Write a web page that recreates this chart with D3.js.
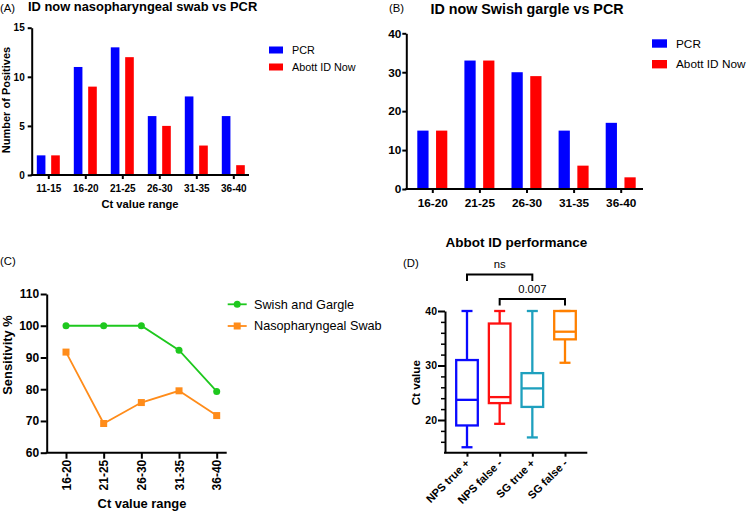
<!DOCTYPE html>
<html>
<head>
<meta charset="utf-8">
<script src="https://cdn.jsdelivr.net/npm/d3@7"></script>
<style>
  body { margin: 0; background: #fff; }
  svg { display: block; }
</style>
</head>
<body>
<div id="chart"></div>
<script>
// (A) nasopharyngeal swab vs PCR
const nasoCategories = ['11-15', '16-20', '21-25', '26-30', '31-35', '36-40'];
const nasoPcr = [2, 11, 13, 6, 8, 6];
const nasoIdNow = [2, 9, 12, 5, 3, 1];
const nasoTicks = [0, 5, 10, 15];

// (B) swish gargle vs PCR
const gargleCategories = ['16-20', '21-25', '26-30', '31-35', '36-40'];
const garglePcr = [15, 33, 30, 15, 17];
const gargleIdNow = [15, 33, 29, 6, 3];
const gargleTicks = [0, 10, 20, 30, 40];

const barSeries = ['PCR', 'Abott ID Now'];

// (C) sensitivity
const sensCategories = ['16-20', '21-25', '26-30', '31-35', '36-40'];
const sensSwish = [100, 100, 100, 92.3, 79.3];
const sensNaso = [91.7, 69.2, 75.8, 79.5, 71.7];
const sensTicks = [60, 70, 80, 90, 100, 110];
const lineSeries = ['Swish and Gargle', 'Nasopharyngeal Swab'];

// (D) box plots
const boxGroups = ['NPS true +', 'NPS false -', 'SG true +', 'SG false -'];
const boxMin = [15.0, 19.3, 16.8, 30.5];
const boxQ1 = [19.0, 23.1, 22.4, 34.8];
const boxMedian = [23.7, 24.2, 25.8, 36.2];
const boxQ3 = [31.0, 37.7, 28.6, 40.0];
const boxMax = [40, 40, 40, 40];
const boxTicks = [20, 30, 40];
const boxMinorTicks = [16, 18, 22, 24, 26, 28, 32, 34, 36, 38];
const sigLabels = ['ns', '0.007'];
const sigFrom = ['NPS true +', 'NPS false -'];
const sigTo = ['SG true +', 'SG false -'];
const sigLevel = [46.7, 42.2];

const FONT = '"Liberation Sans", Arial, Helvetica, sans-serif';

const svg = d3.select('#chart')
    .append('svg')
    .attr('width', 748)
    .attr('height', 512)
    .attr('font-family', FONT);

function styleAxis(g, fontSize) {
    g.attr('font-family', FONT);
    g.select('.domain').attr('stroke-width', 2);
    g.selectAll('.tick line').attr('stroke-width', 2);
    g.selectAll('.tick text')
        .attr('font-size', fontSize)
        .attr('font-weight', 'bold')
        .attr('fill', '#000');
}

function addText(x, y, txt, size, opts = {}) {
    return svg.append('text')
        .attr('x', x)
        .attr('y', y)
        .attr('font-size', size)
        .attr('font-weight', opts.bold ? 'bold' : 'normal')
        .attr('text-anchor', opts.anchor || 'start')
        .attr('transform', opts.rotate ? `rotate(${opts.rotate},${x},${y})` : null)
        .text(txt);
}

// grouped bars, used by A and B
function barPanel(o) {
    const x = d3.scalePoint().domain(o.categories).range(o.xRange);
    const inner = d3.scaleBand().domain(barSeries).range([-o.half, o.half]).paddingInner(0.4);
    const y = d3.scaleLinear().domain([0, d3.max(o.ticks)]).range(o.yRange);
    const color = d3.scaleOrdinal().domain(barSeries).range(['#0000ff', '#ff0000']);

    const rows = o.categories.map((c, i) => ({ c, values: [o.pcr[i], o.idNow[i]] }));

    svg.append('g')
        .selectAll('g')
        .data(rows)
        .join('g')
        .attr('transform', d => `translate(${x(d.c)},0)`)
        .selectAll('rect')
        .data(d => barSeries.map((s, j) => ({ s, v: d.values[j] })))
        .join('rect')
        .attr('x', d => inner(d.s))
        .attr('width', inner.bandwidth())
        .attr('y', d => y(d.v))
        .attr('height', d => y(0) - y(d.v))
        .attr('fill', d => color(d.s));

    svg.append('line')
        .attr('x1', o.axisX[0] - 1).attr('x2', o.axisX[1])
        .attr('y1', y(0)).attr('y2', y(0))
        .attr('stroke', '#000').attr('stroke-width', 2);

    const gx = svg.append('g')
        .attr('transform', `translate(0,${y(0)})`)
        .call(d3.axisBottom(x).tickSize(o.tickLen).tickPadding(o.xPad));
    gx.select('.domain').remove();
    styleAxis(gx, o.font);

    const gy = svg.append('g')
        .attr('transform', `translate(${o.axisX[0]},0)`)
        .call(d3.axisLeft(y).tickValues(o.ticks).tickSize(o.tickLen).tickSizeOuter(0).tickPadding(o.yPad));
    styleAxis(gy, o.font);

    // legend
    barSeries.forEach((s, i) => {
        const ly = o.legend.y + i * o.legend.gap;
        svg.append('rect')
            .attr('x', o.legend.x).attr('y', ly - o.legend.h / 2)
            .attr('width', o.legend.w).attr('height', o.legend.h)
            .attr('fill', color(s));
        addText(o.legend.x + o.legend.w + 9, ly, s, o.legend.font).attr('dy', '0.35em');
    });
}

// ---------- (A) ----------
addText(0, 12, '(A)', 11.3);
addText(28, 10.5, 'ID now nasopharyngeal swab vs PCR', 12.9, { bold: true });
barPanel({
    categories: nasoCategories, pcr: nasoPcr, idNow: nasoIdNow, ticks: nasoTicks,
    xRange: [48.3, 233.3], axisX: [31.7, 249], yRange: [175, 27.7],
    half: 11.5, tickLen: 4, xPad: 6, yPad: 3, font: 10,
    legend: { x: 269, y: 50, gap: 17, w: 14, h: 7, font: 10.8 }
});
addText(140, 207.5, 'Ct value range', 11.2, { bold: true, anchor: 'middle' });
addText(10, 100, 'Number of Positives', 11, { bold: true, anchor: 'middle', rotate: -90 });

// ---------- (B) ----------
addText(389, 12, '(B)', 11.3);
addText(430.5, 14, 'ID now Swish gargle vs PCR', 14.3, { bold: true });
barPanel({
    categories: gargleCategories, pcr: garglePcr, idNow: gargleIdNow, ticks: gargleTicks,
    xRange: [432.3, 620.7], axisX: [406.3, 643], yRange: [189, 33.3],
    half: 15, tickLen: 4, xPad: 6, yPad: 1, font: 11.8,
    legend: { x: 652, y: 43.5, gap: 20.7, w: 15, h: 8.4, font: 11.8 }
});

// ---------- (C) ----------
addText(0, 265, '(C)', 11.3);
{
    const x = d3.scalePoint().domain(sensCategories).range([66, 216.7]);
    const y = d3.scaleLinear().domain([60, 110]).range([452.7, 294]);
    const color = d3.scaleOrdinal().domain(lineSeries).range(['#1ec81e', '#ff8c1a']);
    const seriesData = [sensSwish, sensNaso];

    svg.append('line')
        .attr('x1', 45.7).attr('x2', 226.7)
        .attr('y1', y(60)).attr('y2', y(60))
        .attr('stroke', '#000').attr('stroke-width', 2);

    const gx = svg.append('g')
        .attr('transform', `translate(0,${y(60)})`)
        .call(d3.axisBottom(x).tickSize(6));
    gx.select('.domain').remove();
    styleAxis(gx, 12);
    gx.selectAll('.tick text')
        .attr('transform', 'rotate(-90)')
        .attr('text-anchor', 'end')
        .attr('x', -7)
        .attr('y', 0)
        .attr('dy', '0.35em');

    const gy = svg.append('g')
        .attr('transform', 'translate(46.7,0)')
        .call(d3.axisLeft(y).tickValues(sensTicks).tickSize(6).tickSizeOuter(0).tickPadding(1.5));
    styleAxis(gy, 12);

    const line = d3.line().x((d, i) => x(sensCategories[i])).y(d => y(d));

    lineSeries.forEach((s, k) => {
        svg.append('path')
            .datum(seriesData[k])
            .attr('d', line)
            .attr('fill', 'none')
            .attr('stroke', color(s))
            .attr('stroke-width', 1.8);
    });

    // markers
    svg.append('g').selectAll('circle')
        .data(sensSwish)
        .join('circle')
        .attr('cx', (d, i) => x(sensCategories[i]))
        .attr('cy', d => y(d))
        .attr('r', 3.5)
        .attr('fill', color(lineSeries[0]));
    svg.append('g').selectAll('rect')
        .data(sensNaso)
        .join('rect')
        .attr('x', (d, i) => x(sensCategories[i]) - 3.5)
        .attr('y', d => y(d) - 3.5)
        .attr('width', 7).attr('height', 7)
        .attr('fill', color(lineSeries[1]));

    // legend
    lineSeries.forEach((s, k) => {
        const ly = 304.3 + k * 21.7;
        svg.append('line')
            .attr('x1', 227.7).attr('x2', 246.7)
            .attr('y1', ly).attr('y2', ly)
            .attr('stroke', color(s)).attr('stroke-width', 1.8);
        if (k === 0) {
            svg.append('circle').attr('cx', 237.2).attr('cy', ly).attr('r', 3.5).attr('fill', color(s));
        } else {
            svg.append('rect').attr('x', 233.7).attr('y', ly - 3.5).attr('width', 7).attr('height', 7).attr('fill', color(s));
        }
        addText(254, ly, s, 12.7).attr('dy', '0.35em');
    });

    addText(142, 507.5, 'Ct value range', 12.9, { bold: true, anchor: 'middle' });
    addText(12, 355, 'Sensitivity %', 12.9, { bold: true, anchor: 'middle', rotate: -90 });
}

// ---------- (D) ----------
addText(403, 266.5, '(D)', 11.3);
addText(516.5, 246.5, 'Abbot ID performance', 13.5, { bold: true, anchor: 'middle' });
{
    const x = d3.scalePoint().domain(boxGroups).range([467, 565]);
    const y = d3.scaleLinear().domain([14, 40]).range([452.7, 311]);
    const color = d3.scaleOrdinal().domain(boxGroups).range(['#0a0aff', '#ff1010', '#1ea0be', '#ff8000']);
    const half = 10.8;
    const cap = 5.5;

    const boxes = boxGroups.map((g, i) => ({
        g, min: boxMin[i], q1: boxQ1[i], med: boxMedian[i], q3: boxQ3[i], max: boxMax[i]
    }));

    const bg = svg.append('g')
        .selectAll('g')
        .data(boxes)
        .join('g')
        .attr('transform', d => `translate(${x(d.g)},0)`)
        .attr('stroke', d => color(d.g))
        .attr('stroke-width', 2.3)
        .attr('fill', 'none');

    // whiskers
    bg.append('line').attr('x1', 0).attr('x2', 0).attr('y1', d => y(d.max)).attr('y2', d => y(d.q3));
    bg.append('line').attr('x1', 0).attr('x2', 0).attr('y1', d => y(d.q1)).attr('y2', d => y(d.min));
    bg.append('line').attr('x1', -cap).attr('x2', cap).attr('y1', d => y(d.max)).attr('y2', d => y(d.max));
    bg.append('line').attr('x1', -cap).attr('x2', cap).attr('y1', d => y(d.min)).attr('y2', d => y(d.min));
    // box + median
    bg.append('rect')
        .attr('x', -half).attr('width', half * 2)
        .attr('y', d => y(d.q3)).attr('height', d => y(d.q1) - y(d.q3));
    bg.append('line').attr('x1', -half).attr('x2', half).attr('y1', d => y(d.med)).attr('y2', d => y(d.med));

    // axes
    svg.append('line')
        .attr('x1', 444).attr('x2', 587.3)
        .attr('y1', y(14)).attr('y2', y(14))
        .attr('stroke', '#000').attr('stroke-width', 2);

    const gx = svg.append('g')
        .attr('transform', `translate(0,${y(14)})`)
        .call(d3.axisBottom(x).tickSize(4));
    gx.select('.domain').remove();
    styleAxis(gx, 11);
    gx.selectAll('.tick text')
        .attr('transform', 'rotate(-45)')
        .attr('text-anchor', 'end')
        .attr('x', -6)
        .attr('y', 6)
        .attr('dy', '0.35em');

    const gMinor = svg.append('g')
        .attr('transform', 'translate(445,0)')
        .call(d3.axisLeft(y).tickValues(boxMinorTicks).tickSize(4).tickFormat(''));
    gMinor.select('.domain').remove();
    gMinor.selectAll('.tick line').attr('stroke-width', 1.5);

    const gy = svg.append('g')
        .attr('transform', 'translate(445,0)')
        .call(d3.axisLeft(y).tickValues(boxTicks).tickSize(7).tickSizeOuter(0).tickPadding(1));
    styleAxis(gy, 10.5);

    // significance brackets
    sigLabels.forEach((lab, i) => {
        const x1 = x(sigFrom[i]);
        const x2 = x(sigTo[i]);
        const by = y(sigLevel[i]);
        svg.append('path')
            .attr('d', `M${x1},${by + 6.5}V${by}H${x2}V${by + 6.5}`)
            .attr('fill', 'none')
            .attr('stroke', '#000')
            .attr('stroke-width', 2);
        addText((x1 + x2) / 2, by - 6.5, lab, 11.3, { anchor: 'middle' });
    });

    addText(420, 382.7, 'Ct value', 11.6, { bold: true, anchor: 'middle', rotate: -90 });
}
</script>
</body>
</html>
